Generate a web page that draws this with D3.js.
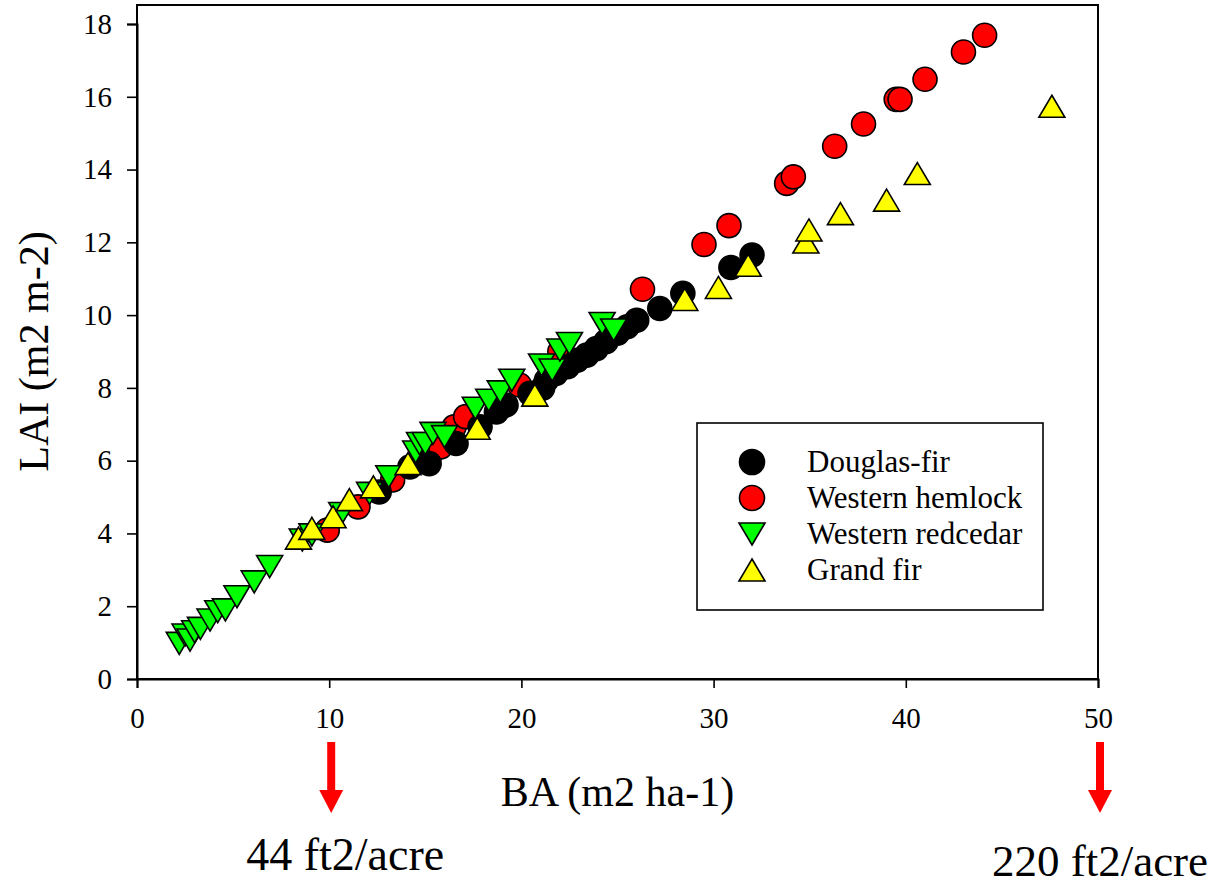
<!DOCTYPE html>
<html>
<head>
<meta charset="utf-8">
<script src="https://cdn.jsdelivr.net/npm/d3@7"></script>
<style>
  body { margin: 0; background: #fff; }
  svg { display: block; }
  svg text { font-family: "Liberation Serif", "Times New Roman", serif; fill: #000; }
</style>
</head>
<body>
<div id="chart"></div>
<script>
// Douglas-fir
const dfBA  = [12.6, 14.2, 15.2, 16.6, 17.85, 18.7, 19.2, 20.45, 21.1, 21.3, 21.8, 22.4, 22.9, 23.4, 23.9, 24.4, 25.0, 25.5, 26.0, 27.2, 28.4, 30.9, 32.0];
const dfLAI = [5.14, 5.83, 5.92, 6.47, 6.93, 7.34, 7.53, 7.85, 7.99, 8.21, 8.40, 8.58, 8.76, 8.90, 9.08, 9.27, 9.50, 9.68, 9.86, 10.18, 10.60, 11.31, 11.65];

// Western hemlock
const whBA  = [9.9, 11.5, 13.3, 15.2, 15.8, 16.5, 17.1, 19.9, 22.0, 26.3, 29.5, 30.8, 33.8, 34.15, 36.3, 37.8, 39.5, 39.7, 41.0, 43.0, 44.1];
const whLAI = [4.09, 4.73, 5.47, 6.11, 6.38, 6.93, 7.21, 8.08, 9.0, 10.71, 11.94, 12.46, 13.62, 13.80, 14.64, 15.25, 15.93, 15.93, 16.48, 17.23, 17.69];

// Western redcedar
const wrBA  = [2.2, 2.5, 2.76, 3.0, 3.3, 3.8, 4.2, 4.6, 5.2, 6.1, 6.9, 8.6, 9.1, 10.65, 12.1, 13.1, 14.5, 14.7, 15.0, 15.4, 16.0, 17.6, 18.3, 18.9, 19.5, 21.05, 21.6, 22.0, 22.5, 24.2, 24.8];
const wrLAI = [0.98, 1.21, 1.07, 1.30, 1.39, 1.62, 1.85, 1.90, 2.26, 2.67, 3.09, 3.82, 3.96, 4.55, 5.10, 5.56, 6.24, 6.47, 6.47, 6.75, 6.66, 7.44, 7.66, 7.89, 8.21, 8.63, 8.49, 9.04, 9.22, 9.77, 9.59];

// Grand fir
const gfBA  = [8.4, 9.1, 10.2, 11.05, 12.3, 14.1, 17.7, 20.7, 28.5, 30.25, 31.8, 34.8, 34.96, 36.6, 39.0, 40.6, 47.6];
const gfLAI = [3.87, 4.14, 4.46, 4.93, 5.28, 5.92, 6.89, 7.80, 10.43, 10.76, 11.37, 12.01, 12.34, 12.79, 13.16, 13.89, 15.74];

const xTicks = [0, 10, 20, 30, 40, 50];
const yTicks = [0, 2, 4, 6, 8, 10, 12, 14, 16, 18];

const arrowBA = [10, 50];
const arrowLabels = ["44 ft2/acre", "220 ft2/acre"];

const width = 1228, height = 889;
const margin = { top: 5, right: 130, bottom: 210, left: 137 };

const svg = d3.select("#chart").append("svg")
  .attr("width", width)
  .attr("height", height);

const x = d3.scaleLinear().domain([0, 50]).range([137, 1098]);
const y = d3.scaleLinear().domain([0, 18]).range([679, 24]);

// frame
svg.append("rect")
  .attr("x", x(0)).attr("y", margin.top)
  .attr("width", x(50) - x(0)).attr("height", y(0) - margin.top)
  .attr("fill", "none").attr("stroke", "#000").attr("stroke-width", 2);

const xAxis = svg.append("g")
  .attr("transform", `translate(0,${y(0)})`)
  .call(d3.axisBottom(x).tickValues(xTicks).tickSize(9).tickPadding(19).tickFormat(d3.format("d")));
const yAxis = svg.append("g")
  .attr("transform", `translate(${x(0)},0)`)
  .call(d3.axisLeft(y).tickValues(yTicks).tickSize(10).tickPadding(15).tickFormat(d3.format("d")));

[xAxis, yAxis].forEach(g => {
  g.attr("font-family", null).attr("font-size", null);
  g.select(".domain").attr("stroke-width", 2);
  g.selectAll(".tick line").attr("stroke-width", 1.6);
  g.selectAll("text").style("font-size", "29px");
});

svg.append("text")
  .attr("x", (x(0) + x(50)) / 2).attr("y", 806)
  .attr("text-anchor", "middle").style("font-size", "42px")
  .text("BA (m2 ha-1)");

svg.append("text")
  .attr("transform", `translate(48,${(y(0) + y(18)) / 2}) rotate(-90)`)
  .attr("text-anchor", "middle").style("font-size", "42px")
  .text("LAI (m2 m-2)");

// symbols
const triUp = "M0,-11L13,11L-13,11Z";
const triDown = "M0,11L13,-11L-13,-11Z";

const series = [
  { name: "Western hemlock", xs: whBA, ys: whLAI, fill: "#ff0000", shape: "circle" },
  { name: "Douglas-fir", xs: dfBA, ys: dfLAI, fill: "#000000", shape: "circle" },
  { name: "Western redcedar", xs: wrBA, ys: wrLAI, fill: "#00ff00", shape: "down" },
  { name: "Grand fir", xs: gfBA, ys: gfLAI, fill: "#ffff00", shape: "up" }
];

function drawMark(g, shape, fill, r) {
  if (shape === "circle") {
    g.append("circle").attr("r", r).attr("fill", fill).attr("stroke", "#000").attr("stroke-width", 1.6);
  } else {
    g.append("path").attr("d", shape === "up" ? triUp : triDown)
      .attr("fill", fill).attr("stroke", "#000").attr("stroke-width", 1.6);
  }
}

series.forEach(s => {
  const pts = s.xs.map((v, i) => ({ ba: v, lai: s.ys[i] }));
  svg.append("g").selectAll("g")
    .data(pts)
    .enter().append("g")
    .attr("transform", d => `translate(${x(d.ba)},${y(d.lai)})`)
    .each(function () { drawMark(d3.select(this), s.shape, s.fill, 12); });
});

// legend
const legend = svg.append("g");
legend.append("rect")
  .attr("x", 697).attr("y", 423).attr("width", 346).attr("height", 187)
  .attr("fill", "#fff").attr("stroke", "#000").attr("stroke-width", 1.6);

const legendOrder = ["Douglas-fir", "Western hemlock", "Western redcedar", "Grand fir"];
legendOrder.forEach((name, i) => {
  const s = series.find(d => d.name === name);
  const base = 472 + i * 36;
  const m = legend.append("g").attr("transform", `translate(752,${base - 10})`);
  drawMark(m, s.shape, s.fill, 12.5);
  legend.append("text")
    .attr("x", 807).attr("y", base)
    .style("font-size", "31px")
    .text(name);
});

// conversion arrows
arrowBA.forEach(v => {
  const a = svg.append("g").attr("transform", `translate(${x(v) + 2},0)`);
  a.append("rect").attr("x", -4).attr("y", 742).attr("width", 8).attr("height", 50).attr("fill", "#ff0000");
  a.append("path").attr("d", "M-12,790L12,790L0,813Z").attr("fill", "#ff0000");
});

svg.append("text")
  .attr("x", x(arrowBA[0]) + 16).attr("y", 870)
  .attr("text-anchor", "middle").style("font-size", "46px")
  .text(arrowLabels[0]);
svg.append("text")
  .attr("x", x(arrowBA[1]) + 2).attr("y", 876)
  .attr("text-anchor", "middle").style("font-size", "45px")
  .text(arrowLabels[1]);
</script>
</body>
</html>
